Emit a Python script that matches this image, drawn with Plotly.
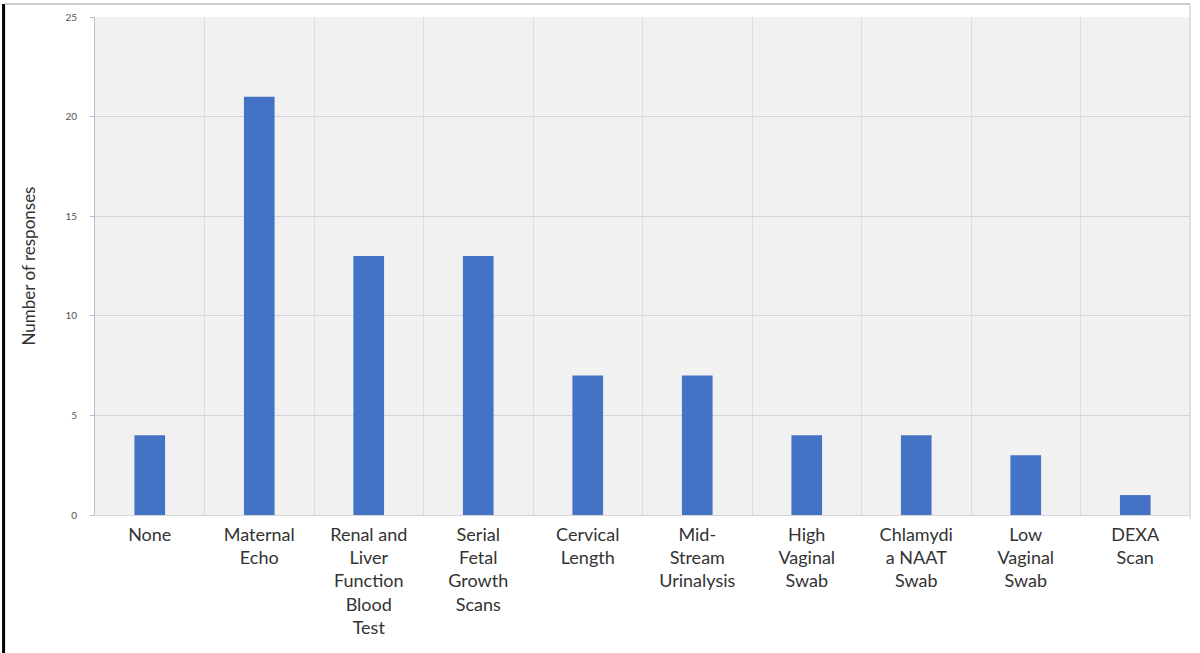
import plotly.graph_objects as go

categories = [
    "None",
    "Maternal<br>Echo",
    "Renal and<br>Liver<br>Function<br>Blood<br>Test",
    "Serial<br>Fetal<br>Growth<br>Scans",
    "Cervical<br>Length",
    "Mid-<br>Stream<br>Urinalysis",
    "High<br>Vaginal<br>Swab",
    "Chlamydi<br>a NAAT<br>Swab",
    "Low<br>Vaginal<br>Swab",
    "DEXA<br>Scan",
]
responses = [4, 21, 13, 13, 7, 7, 4, 4, 3, 1]
y_ticks = [0, 5, 10, 15, 20, 25]

fig = go.Figure(
    go.Bar(
        x=categories,
        y=responses,
        marker=dict(color="#4472C4", line=dict(width=0)),
        width=0.28,
    )
)

fig.update_layout(
    width=1200,
    height=653,
    margin=dict(l=95, r=10, t=17, b=138),
    paper_bgcolor="white",
    plot_bgcolor="#f1f1f1",
    showlegend=False,
    font=dict(family="Lato, Open Sans, sans-serif", color="#404040"),
    xaxis=dict(
        type="category",
        tickson="boundaries",
        showgrid=True,
        gridcolor="#dcdcdc",
        gridwidth=1,
        ticks="",
        ticklabelstandoff=3,
        tickfont=dict(size=18, color="#333333"),
        showline=True,
        linecolor="#d6d6d6",
        linewidth=1,
    ),
    yaxis=dict(
        range=[0, 25],
        tickvals=y_ticks,
        ticks="outside",
        ticklen=4,
        tickcolor="#b8c0d0",
        ticklabelstandoff=11,
        tickfont=dict(size=10, color="#555555"),
        showgrid=True,
        gridcolor="#cfd4de",
        gridwidth=1,
        zeroline=False,
        showline=True,
        linecolor="#b8c0d6",
        linewidth=1,
        title=dict(text="Number of responses", font=dict(size=17, color="#333333"), standoff=25),
    ),
)

# page frame around the chart
fig.add_shape(type="line", xref="paper", yref="paper", x0=-91/1090, x1=-91/1090,
              y0=-138/498, y1=1 + 13/498, line=dict(color="black", width=3))
fig.add_shape(type="line", xref="paper", yref="paper", x0=-90/1090, x1=1,
              y0=1 + 13/498, y1=1 + 13/498, line=dict(color="#bdbdbd", width=1.5))
fig.add_shape(type="line", xref="paper", yref="paper", x0=1, x1=1,
              y0=-4/498, y1=1 + 13/498, line=dict(color="#c8c8c8", width=1))

fig.write_html("out.html")
